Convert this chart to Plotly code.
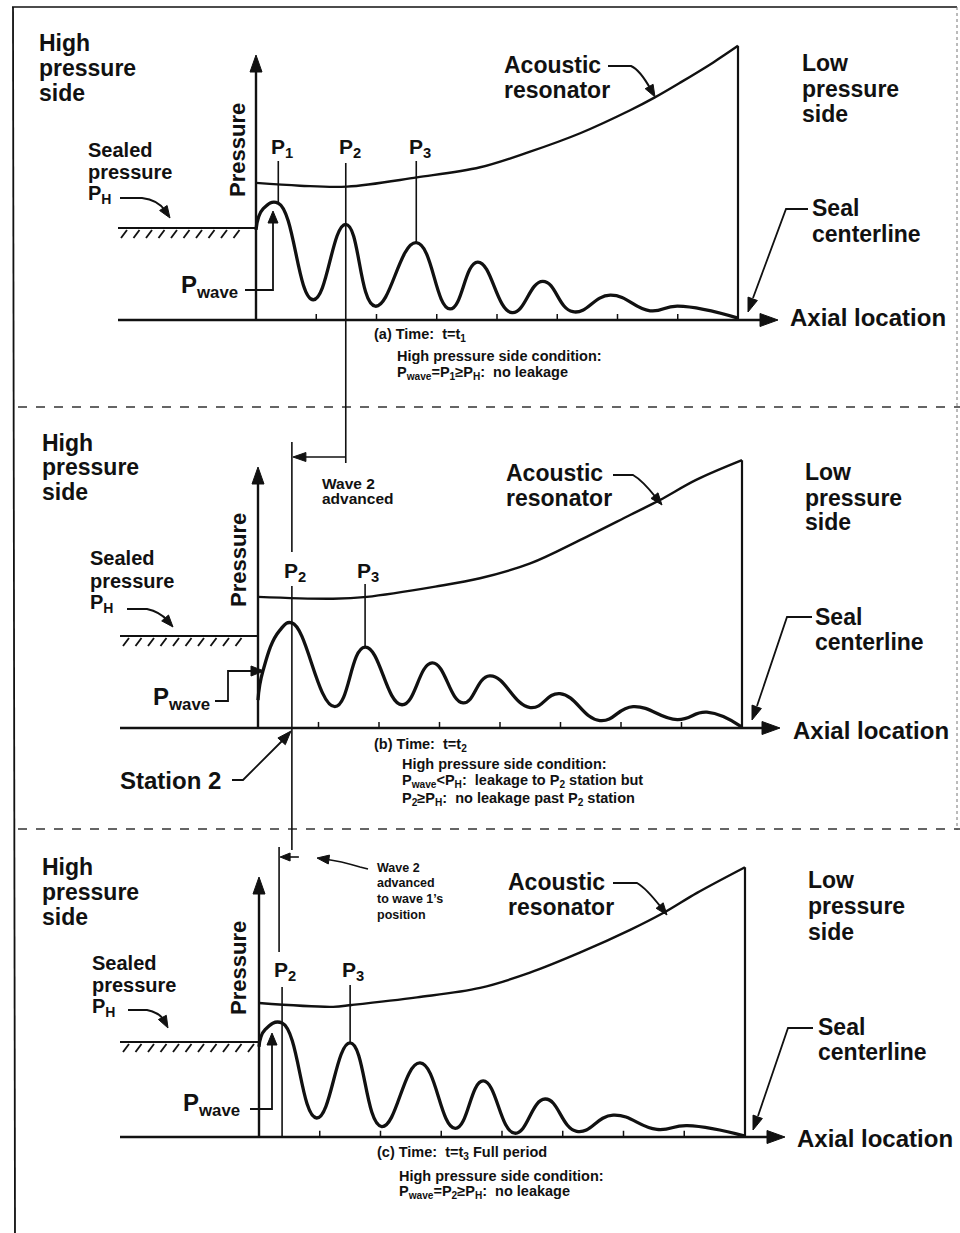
import math
import plotly.graph_objects as go

W, H = 960, 1233
FONT = "Liberation Sans, Arial, Helvetica, sans-serif"
INK = "#111111"

# ---------------- data (axial location units, pressure units with P_H ~ 1) -------------
AXIAL_TICKS = [1, 2, 3, 4, 5, 6, 7]
SEAL_X = 8.0

# (a) t = t1  -- wave extrema
A_WAVE_X = [0.0, 0.12, 0.37, 0.95, 1.49, 1.98, 2.66, 3.22, 3.68, 4.25, 4.76, 5.26, 5.88, 6.54, 7.0, 8.0]
A_WAVE_P = [0.98, 1.21, 1.27, 0.22, 1.04, 0.15, 0.84, 0.12, 0.63, 0.08, 0.42, 0.09, 0.27, 0.10, 0.15, 0.02]
A_RES_X = [0.0, 0.73, 1.51, 2.67, 3.72, 4.55, 5.38, 6.21, 6.62, 7.04, 7.59, 8.0]
A_RES_P = [1.49, 1.46, 1.45, 1.55, 1.66, 1.83, 2.03, 2.28, 2.42, 2.58, 2.80, 2.98]
A_PEAK_X = {"1": 0.37, "2": 1.49, "3": 2.66}

# (b) t = t2
B_WAVE_X = [0.0, 0.08, 0.36, 0.56, 1.27, 1.77, 2.38, 2.88, 3.39, 3.83, 4.50, 4.99, 5.65, 6.20, 6.93, 7.42, 8.0]
B_WAVE_P = [0.30, 0.61, 1.05, 1.13, 0.23, 0.87, 0.25, 0.70, 0.27, 0.56, 0.22, 0.37, 0.08, 0.23, 0.09, 0.17, 0.01]
B_RES_X = [0.0, 1.24, 1.80, 2.93, 3.67, 4.50, 5.32, 6.15, 6.64, 7.25, 8.0]
B_RES_P = [1.41, 1.39, 1.41, 1.52, 1.61, 1.77, 2.02, 2.29, 2.45, 2.67, 2.88]
B_PEAK_X = {"2": 0.56, "3": 1.77}

# (c) t = t3 (full period)
C_WAVE_X = [0.0, 0.10, 0.38, 0.95, 1.50, 2.02, 2.65, 3.23, 3.69, 4.21, 4.71, 5.23, 5.83, 6.55, 7.05, 8.0]
C_WAVE_P = [0.95, 1.13, 1.20, 0.20, 0.99, 0.11, 0.78, 0.09, 0.59, 0.04, 0.40, 0.06, 0.23, 0.08, 0.12, 0.01]
C_RES_X = [0.0, 1.22, 1.53, 2.60, 3.64, 4.46, 5.28, 6.11, 6.66, 7.21, 8.0]
C_RES_P = [1.41, 1.37, 1.39, 1.47, 1.57, 1.73, 1.94, 2.18, 2.36, 2.57, 2.84]
C_PEAK_X = {"2": 0.38, "3": 1.50}

# ---------------- panel placement (pixels) -------------
PANELS = [
    dict(x0=256, x1=738, y0=320, uy=92, wx=A_WAVE_X, wp=A_WAVE_P, rx=A_RES_X, rp=A_RES_P),
    dict(x0=258, x1=742, y0=728, uy=93, wx=B_WAVE_X, wp=B_WAVE_P, rx=B_RES_X, rp=B_RES_P),
    dict(x0=259, x1=745, y0=1137, uy=95, wx=C_WAVE_X, wp=C_WAVE_P, rx=C_RES_X, rp=C_RES_P),
]
for p in PANELS:
    p["ux"] = (p["x1"] - p["x0"]) / SEAL_X


def px(p, xv):
    return p["x0"] + xv * p["ux"]


def py(p, pv):
    return p["y0"] - pv * p["uy"]


def peak_p(p, xv):
    return p["wp"][p["wx"].index(xv)]


fig = go.Figure()
# invisible trace for overlay pixel axes
fig.add_trace(go.Scatter(x=[0, W], y=[0, H], mode="markers", marker=dict(opacity=0),
                         hoverinfo="skip", showlegend=False, xaxis="x", yaxis="y"))

XPAD, YLO, YHI = 0.3, 0.3, 3.3
layout_axes = {}
for i, p in enumerate(PANELS):
    k = i + 2
    xa, ya = f"x{k}", f"y{k}"
    # resonator
    fig.add_trace(go.Scatter(x=p["rx"], y=p["rp"], mode="lines", xaxis=xa, yaxis=ya,
                             line=dict(color=INK, width=2.4, shape="spline", smoothing=1.0),
                             showlegend=False, hoverinfo="skip"))
    # seal centerline (resonator end down to axis)
    fig.add_trace(go.Scatter(x=[SEAL_X, SEAL_X], y=[p["rp"][-1], 0], mode="lines", xaxis=xa, yaxis=ya,
                             line=dict(color=INK, width=2.2), showlegend=False, hoverinfo="skip"))
    # pressure wave
    fig.add_trace(go.Scatter(x=p["wx"], y=p["wp"], mode="lines", xaxis=xa, yaxis=ya,
                             line=dict(color=INK, width=3.3, shape="spline", smoothing=1.3),
                             showlegend=False, hoverinfo="skip"))
    # ticks on the axial axis
    tx, ty = [], []
    for t in AXIAL_TICKS:
        tx += [t, t, None]
        ty += [0, 0.065, None]
    fig.add_trace(go.Scatter(x=tx, y=ty, mode="lines", xaxis=xa, yaxis=ya,
                             line=dict(color=INK, width=1.5), showlegend=False, hoverinfo="skip"))
    ux, uy = p["ux"], p["uy"]
    layout_axes[f"xaxis{k}"] = dict(domain=[(p["x0"] - XPAD * ux) / W, (p["x0"] + (SEAL_X + XPAD) * ux) / W],
                                    range=[-XPAD, SEAL_X + XPAD], visible=False, anchor=ya, fixedrange=True)
    layout_axes[f"yaxis{k}"] = dict(domain=[1 - (p["y0"] + YLO * uy) / H, 1 - (p["y0"] - YHI * uy) / H],
                                    range=[-YLO, YHI], visible=False, anchor=xa, fixedrange=True)

shapes = []
annotations = []


def line(x0, y0, x1, y1, w=2.0, dash=None, color=INK):
    d = dict(type="line", xref="x", yref="y", x0=x0, y0=y0, x1=x1, y1=y1,
             line=dict(color=color, width=w))
    if dash:
        d["line"]["dash"] = dash
    shapes.append(d)


def poly(pts, w=2.0):
    path = "M " + " L ".join(f"{a:.1f},{b:.1f}" for a, b in pts)
    shapes.append(dict(type="path", xref="x", yref="y", path=path, line=dict(color=INK, width=w)))


def head(tx, ty, fx, fy, L=13, Wd=10):
    dx, dy = tx - fx, ty - fy
    n = math.hypot(dx, dy)
    dx, dy = dx / n, dy / n
    bx, by = tx - dx * L, ty - dy * L
    nx, ny = -dy, dx
    path = (f"M {tx:.1f},{ty:.1f} L {bx + nx * Wd / 2:.1f},{by + ny * Wd / 2:.1f} "
            f"L {bx - nx * Wd / 2:.1f},{by - ny * Wd / 2:.1f} Z")
    shapes.append(dict(type="path", xref="x", yref="y", path=path,
                       fillcolor=INK, line=dict(color=INK, width=1)))
    return bx + dx * 3, by + dy * 3


def curved_arrow(start, mid, ctrl, tip, L=12, Wd=9, w=2.0):
    # straight lead-in, quadratic curve toward the arrowhead
    bx, by = head(tip[0], tip[1], ctrl[0], ctrl[1], L, Wd)
    path = (f"M {start[0]},{start[1]} L {mid[0]},{mid[1]} "
            f"Q {ctrl[0]},{ctrl[1]} {bx:.1f},{by:.1f}")
    shapes.append(dict(type="path", xref="x", yref="y", path=path, line=dict(color=INK, width=w)))


def text(x, y, s, size, anchor="left", angle=0, vanchor="middle"):
    annotations.append(dict(x=x, y=y, xref="x", yref="y", text=s, showarrow=False,
                            xanchor=anchor, yanchor=vanchor, textangle=angle,
                            font=dict(family=FONT, size=size, color=INK, weight="bold")))


def lines_text(x, ys, rows, size):
    for yy, s in zip(ys, rows):
        text(x, yy, s, size)


def hatch(x0, x1, y):
    line(x0, y, x1, y, 2.2)
    x = x0 + 9
    while x < x1 - 4:
        line(x, y + 2, x - 6, y + 10, 1.8)
        x += 12.5


# ---------------- frame ----------------
line(12, 7, 957, 7, 1.6)
line(13, 7, 15, 1233, 1.8)
line(957, 7, 957, 830, 1.0, dash="dot", color="#777777")
line(18, 407, 960, 407, 1.4, dash="dash", color="#333333")
line(18, 829, 960, 829, 1.4, dash="dash", color="#333333")

# ---------------- per-panel axes & decorations ----------------
axis_left = [118, 120, 120]
axis_tip = [778, 780, 785]
ptop = [55, 467, 877]
hatch_y = [228, 636, 1042]
for i, p in enumerate(PANELS):
    y0 = p["y0"]
    line(axis_left[i], y0, axis_tip[i] - 10, y0, 2.4)
    head(axis_tip[i], y0, axis_tip[i] - 30, y0, 18, 13)
    line(p["x0"], y0, p["x0"], ptop[i] + 10, 2.4)
    head(p["x0"], ptop[i], p["x0"], ptop[i] + 30, 17, 12)
    hatch(axis_left[i], p["x0"], hatch_y[i])

pa, pb, pc = PANELS
x2a = px(pa, A_PEAK_X["2"])
x2b = px(pb, B_PEAK_X["2"])
x2c = px(pc, C_PEAK_X["2"])

# ---------------- panel (a) ----------------
lines_text(37, [43, 68, 93], ["High", "pressure", "side"], 23)
lines_text(800, [63, 89, 114], ["Low", "pressure", "side"], 23)
lines_text(502, [65, 90], ["Acoustic", "resonator"], 23)
lines_text(810, [208, 234], ["Seal", "centerline"], 23)
text(788, 317, "Axial location", 24)
lines_text(86, [150, 172, 194], ["Sealed", "pressure", "P<sub>H</sub>"], 20)
text(237, 150, "Pressure", 22, anchor="center", angle=-90)
text(240, 286, "P<sub>wave</sub>", 24, anchor="right")
for lab, xv in A_PEAK_X.items():
    xp = px(pa, xv)
    text(xp - 9, 148, f"P<sub>{lab}</sub>", 21)
    if lab != "2":
        line(xp, 161, xp, py(pa, peak_p(pa, xv)), 1.6)
line(x2a, 163, x2a, 463, 1.6)
line(x2a, 457, x2b + 12, 457, 1.6)
head(x2b + 1, 457, x2b + 30, 457, 13, 9)
text(372, 335, "(a) Time:  t=t<sub>1</sub>", 14.5)
text(395, 356, "High pressure side condition:", 14.5)
text(395, 373, "P<sub>wave</sub>=P<sub>1</sub>≥P<sub>H</sub>:  no leakage", 14.5)
poly([(245, 290), (273, 290), (273, 222)], 1.8)
head(273, 211, 273, 240, 12, 10)
curved_arrow((120, 198), (142, 198), (158, 200), (170, 218))
curved_arrow((608, 66), (631, 66), (640, 70), (655, 97))
poly([(808, 209), (786, 209), (753, 298)], 1.8)
head(748, 312, 758, 284, 14, 10)

# ---------------- panel (b) ----------------
lines_text(40, [443, 467, 492], ["High", "pressure", "side"], 23)
lines_text(803, [472, 498, 522], ["Low", "pressure", "side"], 23)
lines_text(504, [473, 498], ["Acoustic", "resonator"], 23)
lines_text(813, [617, 642], ["Seal", "centerline"], 23)
text(791, 730, "Axial location", 24)
lines_text(88, [558, 581, 603], ["Sealed", "pressure", "P<sub>H</sub>"], 20)
text(238, 560, "Pressure", 22, anchor="center", angle=-90)
text(212, 698, "P<sub>wave</sub>", 24, anchor="right")
for lab, xv in B_PEAK_X.items():
    xp = px(pb, xv)
    text(xp - 10, 572, f"P<sub>{lab}</sub>", 21)
    if lab == "3":
        line(xp, 584, xp, py(pb, peak_p(pb, xv)), 1.6)
line(x2b, 442, x2b, 552, 1.6)
line(x2b, 586, x2b, 850, 1.6)
lines_text(320, [483, 498], ["Wave 2", "advanced"], 15.5)
text(118, 780, "Station 2", 24)
poly([(232, 780), (243, 780), (282, 741)], 1.8)
head(291, 731, 270, 754, 14, 10)
text(372, 745, "(b) Time:  t=t<sub>2</sub>", 14.5)
text(400, 764, "High pressure side condition:", 14.5)
text(400, 781, "P<sub>wave</sub>&lt;P<sub>H</sub>:  leakage to P<sub>2</sub> station but", 14.5)
text(400, 799, "P<sub>2</sub>≥P<sub>H</sub>:  no leakage past P<sub>2</sub> station", 14.5)
poly([(215, 701), (228, 701), (228, 671), (252, 671)], 1.8)
head(264, 671, 240, 671, 13, 10)
curved_arrow((127, 609), (147, 609), (160, 612), (173, 627))
curved_arrow((613, 475), (633, 475), (642, 480), (662, 505))
poly([(812, 617), (787, 617), (757, 706)], 1.8)
head(752, 720, 762, 692, 14, 10)

# ---------------- panel (c) ----------------
lines_text(40, [867, 892, 917], ["High", "pressure", "side"], 23)
lines_text(806, [880, 906, 932], ["Low", "pressure", "side"], 23)
lines_text(506, [882, 907], ["Acoustic", "resonator"], 23)
lines_text(816, [1027, 1052], ["Seal", "centerline"], 23)
text(795, 1138, "Axial location", 24)
lines_text(90, [963, 985, 1007], ["Sealed", "pressure", "P<sub>H</sub>"], 20)
text(238, 968, "Pressure", 22, anchor="center", angle=-90)
text(242, 1104, "P<sub>wave</sub>", 24, anchor="right")
for lab, xv in C_PEAK_X.items():
    xp = px(pc, xv)
    text(xp - 10, 971, f"P<sub>{lab}</sub>", 21)
    top = 987 if lab == "2" else 985
    bot = pc["y0"] if lab == "2" else py(pc, peak_p(pc, xv))
    line(xp, top, xp, bot, 1.6)
line(x2c - 3, 847, x2c - 3, 952, 1.6)
line(x2b + 7, 857, x2c + 6, 857, 1.6)
head(x2c - 2, 857, x2c + 20, 857, 10, 8)
lines_text(375, [868, 883, 899, 915], ["Wave 2", "advanced", "to wave 1’s", "position"], 12.5)
curved_arrow((368, 869), (360, 867), (340, 861), (317, 858), 12, 9, 1.6)
text(375, 1153, "(c) Time:  t=t<sub>3</sub> Full period", 14.5)
text(397, 1176, "High pressure side condition:", 14.5)
text(397, 1192, "P<sub>wave</sub>=P<sub>2</sub>≥P<sub>H</sub>:  no leakage", 14.5)
poly([(250, 1109), (272, 1109), (272, 1045)], 1.8)
head(272, 1033, 272, 1060, 12, 10)
curved_arrow((128, 1010), (147, 1010), (160, 1013), (168, 1028))
curved_arrow((613, 883), (637, 883), (646, 888), (667, 915))
poly([(813, 1028), (788, 1028), (758, 1116)], 1.8)
head(753, 1130, 763, 1102, 14, 10)

fig.update_layout(
    width=W, height=H,
    margin=dict(l=0, r=0, t=0, b=0),
    paper_bgcolor="white", plot_bgcolor="rgba(0,0,0,0)",
    showlegend=False,
    xaxis=dict(range=[0, W], domain=[0, 1], visible=False, fixedrange=True),
    yaxis=dict(range=[H, 0], domain=[0, 1], visible=False, fixedrange=True),
    shapes=shapes, annotations=annotations,
    **layout_axes,
)
fig.write_html("out.html", config={"displayModeBar": False},
               post_script="document.body.style.margin='0';document.body.style.overflow='hidden';")
